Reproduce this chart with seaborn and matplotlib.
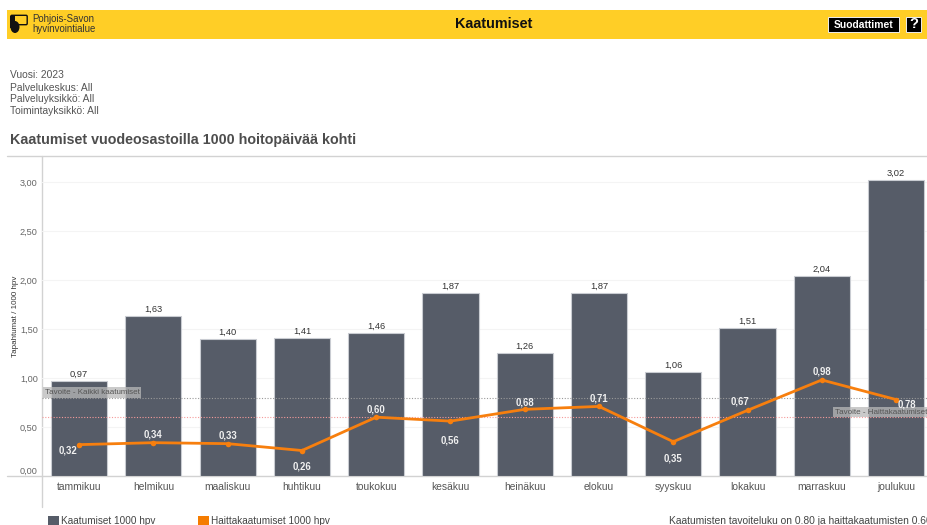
import numpy as np
import pandas as pd
import matplotlib.pyplot as plt
import matplotlib.patches as mpatches
import seaborn as sns

months = ['tammikuu', 'helmikuu', 'maaliskuu', 'huhtikuu', 'toukokuu', 'kesäkuu',
          'heinäkuu', 'elokuu', 'syyskuu', 'lokakuu', 'marraskuu', 'joulukuu']
falls = [0.97, 1.63, 1.40, 1.41, 1.46, 1.87, 1.26, 1.87, 1.06, 1.51, 2.04, 3.02]
harm_falls = [0.32, 0.34, 0.33, 0.26, 0.60, 0.56, 0.68, 0.71, 0.35, 0.67, 0.98, 0.78]
target_all = 0.80
target_harm = 0.60
yticks = [0, 0.5, 1, 1.5, 2, 2.5, 3]
ytick_labels = ['0,00', '0,50', '1,00', '1,50', '2,00', '2,50', '3,00']

# label offsets for the orange line, in pixels from the point
harm_offsets = [(-11, -6), (0, 8), (0, 8), (0, -16), (0, 8), (0, -19),
                (0, 7), (0, 8), (0, -17), (-8, 9), (0, 8), (11, -5)]

GREY = '#565c68'
ORANGE = '#f77f0e'
TEXT = '#4d4d4d'
LINE = '#d2d2d2'

sns.set_theme(style='white')
plt.rcParams['font.family'] = ['Liberation Sans', 'DejaVu Sans']

df = pd.DataFrame({'month': months, 'falls': falls, 'harm': harm_falls})

W, H = 928, 525
fig = plt.figure(figsize=(W / 100, H / 100), dpi=100)

# page layer in pixel coordinates
page = fig.add_axes([0, 0, 1, 1], zorder=0)
page.set_xlim(0, W)
page.set_ylim(H, 0)
page.axis('off')

ax_left, ax_top, ax_bottom = 42, 156, 476
ax = fig.add_axes([ax_left / W, 1 - ax_bottom / H, (W - ax_left) / W, (ax_bottom - ax_top) / H], zorder=1)
ax.patch.set_alpha(0)

sns.barplot(data=df, x='month', y='falls', color=GREY, saturation=1, width=0.755,
            edgecolor='#c9ccd2', linewidth=0.8, ax=ax, zorder=2)
sns.lineplot(data=df, x='month', y='harm', color=ORANGE, linewidth=2.0, sort=False,
             marker='o', markersize=4, markeredgewidth=0, errorbar=None, ax=ax, zorder=4)

ax.set_xlabel('')
ax.set_ylabel('')
for s in ax.spines.values():
    s.set_visible(False)

ax.set_yticks(yticks)
ax.set_yticklabels(ytick_labels, fontsize=6.6, color='#666666')
ax.get_yticklabels()[0].set_va('bottom')
ax.tick_params(axis='y', length=0, pad=3)
ax.tick_params(axis='x', length=0, pad=4, labelsize=7.4, labelcolor='#555555')
ax.set_xticks(np.arange(len(months)), months)
ax.yaxis.grid(True, color='#f4f4f4', linewidth=0.8, zorder=0)
ax.set_axisbelow(True)

# faint separators between categories
ax.set_xticks(np.arange(len(months)) + 0.5, minor=True)
ax.tick_params(axis='x', which='minor', length=3, color='#eeeeee', width=0.8)

ax.set_xlim(-0.5, 11.43)
ax.set_ylim(0, 3.265)

ax.axhline(target_all, color='#9a9a9a', linewidth=0.8, linestyle=(0, (1, 1.5)), zorder=3)
ax.axhline(target_harm, color='#f59a9a', linewidth=0.8, linestyle=(0, (1, 1.5)), zorder=3)

for i, v in enumerate(falls):
    ax.annotate(f'{v:.2f}'.replace('.', ','), (i, v), xytext=(0, 1.5), textcoords='offset points',
                ha='center', va='bottom', fontsize=6.7, color='#333333', zorder=6)
for i, v in enumerate(harm_falls):
    dx, dy = harm_offsets[i]
    ax.annotate(f'{v:.2f}'.replace('.', ','), (i, v), xytext=(dx * 0.72, dy * 0.72), textcoords='offset points',
                ha='center', va='center', fontsize=6.9, fontweight='bold', color='#f0f0f0', zorder=6)

# target labels
box = dict(facecolor='#b9b9b9', alpha=0.75, edgecolor='none', pad=1.2)
ax.text(-0.465, target_all + 0.015, 'Tavoite - Kaikki kaatumiset', fontsize=5.8, color='#555555',
        va='bottom', ha='left', bbox=box, zorder=5)
ax.text(10.18, target_harm + 0.015, 'Tavoite - Haittakaatumiset', fontsize=5.8, color='#555555',
        va='bottom', ha='left', bbox=box, zorder=5)

# chart frame lines
page.plot([7, W], [ax_top, ax_top], color=LINE, linewidth=1)
page.plot([7, W], [ax_bottom, ax_bottom], color=LINE, linewidth=1)
page.plot([ax_left, ax_left], [ax_top, 507], color=LINE, linewidth=1)

page.text(16, 316, 'Tapahtumat / 1000 hpv', rotation=90, fontsize=5.8, color='#333333', ha='center', va='center')

# header band
page.add_patch(mpatches.Rectangle((7, 10), W - 7, 29, facecolor='#ffce26', edgecolor='none'))
page.add_patch(mpatches.FancyBboxPatch((12, 16.5), 14, 7, boxstyle='round,pad=1.2', facecolor='none',
                                       edgecolor='#111111', linewidth=1))
page.add_patch(mpatches.Ellipse((15, 27), 9, 12, facecolor='#111111', edgecolor='none'))
page.add_patch(mpatches.Rectangle((10.5, 15.5), 5, 12, facecolor='#111111', edgecolor='none'))
page.text(32, 19.5, 'Pohjois-Savon', fontsize=6.9, color='#333333', va='center')
page.text(32, 29, 'hyvinvointialue', fontsize=6.9, color='#333333', va='center')
page.text(494, 24, 'Kaatumiset', fontsize=10.4, fontweight='bold', color='#111111', ha='center', va='center')

page.add_patch(mpatches.Rectangle((828, 17), 71, 15, facecolor='black', edgecolor='#eeeeee', linewidth=0.7))
page.text(863.5, 24.5, 'Suodattimet', fontsize=7.4, fontweight='bold', color='white', ha='center', va='center')
page.add_patch(mpatches.Rectangle((906, 17), 15, 15, facecolor='black', edgecolor='#eeeeee', linewidth=0.7))
page.text(913.5, 24.5, '?', fontsize=10.5, fontweight='bold', color='white', ha='center', va='center')

# filter text
for y, t in zip([75.5, 88, 99, 111],
                ['Vuosi: 2023', 'Palvelukeskus: All', 'Palveluyksikkö: All', 'Toimintayksikkö: All']):
    page.text(10, y, t, fontsize=7.4, color='#555555', va='center')

page.text(10, 140, 'Kaatumiset vuodeosastoilla 1000 hoitopäivää kohti', fontsize=10.3, fontweight='bold',
          color=TEXT, va='center')

# legend and note, cut by the page bottom like the original
page.add_patch(mpatches.Rectangle((48, 516), 11, 11, facecolor=GREY, edgecolor='none', clip_on=True))
page.text(61, 521.5, 'Kaatumiset 1000 hpv', fontsize=7.2, color='#444444', va='center')
page.add_patch(mpatches.Rectangle((198, 516), 11, 11, facecolor='#f57c00', edgecolor='none', clip_on=True))
page.text(211, 521.5, 'Haittakaatumiset 1000 hpv', fontsize=7.2, color='#444444', va='center')
page.text(669, 521.5, 'Kaatumisten tavoiteluku on 0.80 ja haittakaatumisten 0.60', fontsize=7.4, color='#444444', va='center')

fig.savefig('out.png', dpi=100)
